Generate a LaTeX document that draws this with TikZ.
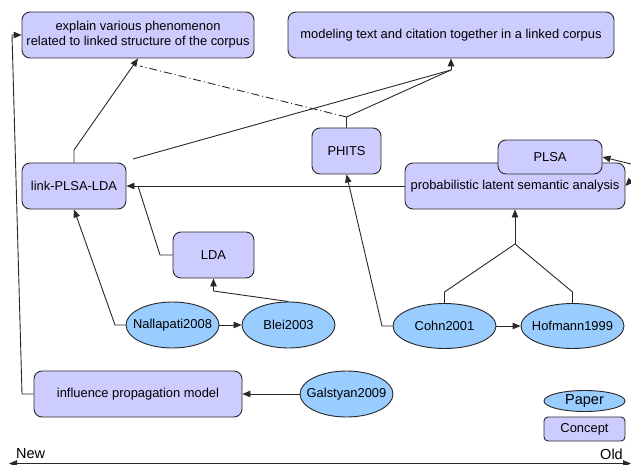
\documentclass[tikz,border=0pt]{standalone}
\usepackage{fontspec}
\setmainfont{Liberation Sans}
\usetikzlibrary{arrows.meta,shapes.geometric}
\definecolor{concfill}{RGB}{204,204,255}
\definecolor{paperfill}{RGB}{153,204,255}
\definecolor{edgecol}{RGB}{40,40,40}
\newcommand{\zw}[1]{\makebox[0pt]{#1}}
\begin{document}
\begin{tikzpicture}[x=1pt,y=-1pt,
  every node/.style={font=\fontsize{12.9}{15}\selectfont, inner sep=0pt, text=black},
  concept/.style={draw=edgecol, fill=concfill, rounded corners=8pt, line width=0.9pt, align=center},
  paper/.style={draw=edgecol, fill=paperfill, ellipse, line width=0.9pt},
  link/.style={draw=edgecol, line width=0.9pt},
  arr/.style={link, -{Triangle[length=8pt,width=6.5pt]}},
  dashdot/.style={link, dash pattern=on 8pt off 3pt on 1pt off 3pt}
]
\useasboundingbox (0,0) rectangle (631,465);

% concepts
\node[concept, minimum width=232pt, minimum height=46pt] (explain) at (138,35) {explain various phenomenon\\related to linked structure of the corpus};
\node[concept, minimum width=326pt, minimum height=46pt] (modeling) at (451,35) {modeling text and citation together in a linked corpus};
\node[concept, minimum width=104pt, minimum height=46pt] (linkm) at (74,186) {link-PLSA-LDA};
\node[concept, minimum width=69pt, minimum height=46pt] (phits) at (346.5,151) {PHITS};
\node[concept, minimum width=220pt, minimum height=46pt] (prob) at (515,186) {probabilistic latent semantic analysis};
\node[concept, minimum width=104pt, minimum height=34pt] (plsa) at (550,157) {PLSA};
\node[concept, minimum width=81pt, minimum height=46pt] (lda) at (213.5,255) {LDA};
\node[concept, minimum width=208pt, minimum height=46pt] (infl) at (138,394) {influence propagation model};

% papers
\node[paper, minimum width=93pt, minimum height=46pt] (nall) at (172.5,325) {\zw{Nallapati2008}};
\node[paper, minimum width=93pt, minimum height=46pt] (blei) at (288.5,325) {\zw{Blei2003}};
\node[paper, minimum width=103pt, minimum height=45pt] (cohn) at (444.5,326) {\zw{Cohn2001}};
\node[paper, minimum width=103pt, minimum height=45pt] (hof) at (572.5,326) {\zw{Hofmann1999}};
\node[paper, minimum width=93pt, minimum height=46pt] (gal) at (346.5,394) {\zw{Galstyan2009}};

% legend
\node[paper, minimum width=81pt, minimum height=21pt, font=\fontsize{14.5}{16}\selectfont] (lpaper) at (584.5,401) {\zw{Paper}};
\node[concept, rounded corners=4pt, minimum width=81pt, minimum height=24pt] (lconcept) at (584.5,429) {Concept};

% axis
\node[font=\fontsize{14.5}{16}\selectfont, anchor=base west] (new) at (16,458) {New};
\node[font=\fontsize{14.5}{16}\selectfont, anchor=base east] (old) at (623,459) {Old};
\coordinate (axl) at (9,463.5);
\coordinate (axr) at (631,463.5);
\draw[link, {Triangle[length=8pt,width=6.5pt]}-{Triangle[length=8pt,width=6.5pt]}] (axl) -- (axr);

% helper coordinates
\coordinate (jn) at (346.5,117);
\coordinate (mj) at (451,70);
\coordinate (ls) at (133,159);
\coordinate (dd) at (140,66);
\coordinate (lj) at (138,186);
\coordinate (pj) at (515,244);
\coordinate (re1) at (631,164);
\coordinate (re2) at (631,180);

% edges
\draw[arr] (infl.west) -- (22,394) -- (12,35) -- (explain.west);
\draw[arr] (linkm.north) -- (74,150) -- (explain.south);
\draw[dashdot] (jn) -- (dd);
\draw[link] (phits.north) -- (jn) -- (mj);
\draw[link] (ls) -- (mj);
\draw[arr] (mj) -- (modeling.south);
\draw[arr] (prob.west) -- (linkm.east);
\draw[link] (lda.west) -- (160,255) -- (lj);
\draw[arr] (nall.west) -- (115,325) -- (linkm.south);
\draw[arr] (nall) -- (blei);
\draw[arr] (blei.north) -- (213.5,291) -- (lda.south);
\draw[arr] (cohn.west) -- (382,326) -- (phits.south);
\draw[arr] (cohn) -- (hof);
\draw[link] (cohn.north) -- (444.5,292) -- (pj);
\draw[link] (hof.north) -- (572.5,292) -- (pj);
\draw[arr] (pj) -- (prob.south);
\draw[arr] (gal) -- (infl);
\draw[arr] (re1) -- (plsa.east);
\draw[arr] (re2) -- (prob.east);
\end{tikzpicture}
\end{document}
